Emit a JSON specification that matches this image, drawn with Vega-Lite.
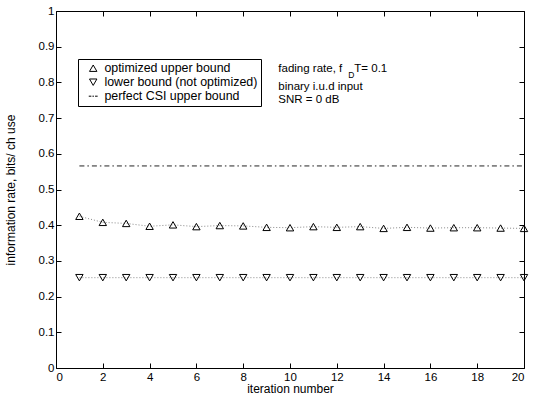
{
  "$schema": "https://vega.github.io/schema/vega-lite/v6.json",
  "width": 468,
  "height": 357,
  "autosize": {"type": "none"},
  "padding": {"left": 56, "top": 11, "right": 18, "bottom": 31},
  "background": "white",
  "config": {
    "view": {"stroke": null},
    "font": "Liberation Sans",
    "axis": {
      "grid": false,
      "domainColor": "black",
      "domainWidth": 1,
      "tickColor": "black",
      "tickSize": -5,
      "labelFontSize": 11.5,
      "labelColor": "black",
      "titleFontSize": 12,
      "titleFontWeight": "normal",
      "titleColor": "black",
      "labelFont": "Liberation Sans",
      "titleFont": "Liberation Sans"
    },
    "legend": {
      "labelFont": "Liberation Sans",
      "labelFontSize": 12.4,
      "labelColor": "black"
    }
  },
  "data": {
    "values": [
      {"iteration": 1, "series": "optimized upper bound", "rate": 0.425},
      {"iteration": 2, "series": "optimized upper bound", "rate": 0.408},
      {"iteration": 3, "series": "optimized upper bound", "rate": 0.405},
      {"iteration": 4, "series": "optimized upper bound", "rate": 0.397},
      {"iteration": 5, "series": "optimized upper bound", "rate": 0.401},
      {"iteration": 6, "series": "optimized upper bound", "rate": 0.396},
      {"iteration": 7, "series": "optimized upper bound", "rate": 0.399},
      {"iteration": 8, "series": "optimized upper bound", "rate": 0.398},
      {"iteration": 9, "series": "optimized upper bound", "rate": 0.394},
      {"iteration": 10, "series": "optimized upper bound", "rate": 0.393},
      {"iteration": 11, "series": "optimized upper bound", "rate": 0.396},
      {"iteration": 12, "series": "optimized upper bound", "rate": 0.394},
      {"iteration": 13, "series": "optimized upper bound", "rate": 0.396},
      {"iteration": 14, "series": "optimized upper bound", "rate": 0.391},
      {"iteration": 15, "series": "optimized upper bound", "rate": 0.394},
      {"iteration": 16, "series": "optimized upper bound", "rate": 0.392},
      {"iteration": 17, "series": "optimized upper bound", "rate": 0.393},
      {"iteration": 18, "series": "optimized upper bound", "rate": 0.393},
      {"iteration": 19, "series": "optimized upper bound", "rate": 0.392},
      {"iteration": 20, "series": "optimized upper bound", "rate": 0.391},
      {"iteration": 1, "series": "lower bound (not optimized)", "rate": 0.253},
      {"iteration": 2, "series": "lower bound (not optimized)", "rate": 0.253},
      {"iteration": 3, "series": "lower bound (not optimized)", "rate": 0.253},
      {"iteration": 4, "series": "lower bound (not optimized)", "rate": 0.253},
      {"iteration": 5, "series": "lower bound (not optimized)", "rate": 0.253},
      {"iteration": 6, "series": "lower bound (not optimized)", "rate": 0.253},
      {"iteration": 7, "series": "lower bound (not optimized)", "rate": 0.253},
      {"iteration": 8, "series": "lower bound (not optimized)", "rate": 0.253},
      {"iteration": 9, "series": "lower bound (not optimized)", "rate": 0.253},
      {"iteration": 10, "series": "lower bound (not optimized)", "rate": 0.253},
      {"iteration": 11, "series": "lower bound (not optimized)", "rate": 0.253},
      {"iteration": 12, "series": "lower bound (not optimized)", "rate": 0.253},
      {"iteration": 13, "series": "lower bound (not optimized)", "rate": 0.253},
      {"iteration": 14, "series": "lower bound (not optimized)", "rate": 0.253},
      {"iteration": 15, "series": "lower bound (not optimized)", "rate": 0.253},
      {"iteration": 16, "series": "lower bound (not optimized)", "rate": 0.253},
      {"iteration": 17, "series": "lower bound (not optimized)", "rate": 0.253},
      {"iteration": 18, "series": "lower bound (not optimized)", "rate": 0.253},
      {"iteration": 19, "series": "lower bound (not optimized)", "rate": 0.253},
      {"iteration": 20, "series": "lower bound (not optimized)", "rate": 0.253},
      {"iteration": 1, "series": "perfect CSI upper bound", "rate": 0.566},
      {"iteration": 20, "series": "perfect CSI upper bound", "rate": 0.566}
    ]
  },
  "layer": [
    {
      "transform": [{"filter": "datum.series !== 'perfect CSI upper bound'"}],
      "mark": {"type": "line", "color": "#888888", "strokeWidth": 1, "strokeDash": [1, 2]},
      "encoding": {
        "x": {"field": "iteration", "type": "quantitative", "scale": {"domain": [0, 20], "nice": false},
              "axis": {"orient": "bottom", "values": [0, 2, 4, 6, 8, 10, 12, 14, 16, 18, 20], "title": "iteration number", "titlePadding": 1, "labelPadding": 8}},
        "y": {"field": "rate", "type": "quantitative", "scale": {"domain": [0, 1], "nice": false},
              "axis": {"orient": "left", "values": [0, 0.1, 0.2, 0.3, 0.4, 0.5, 0.6, 0.7, 0.8, 0.9, 1], "format": ".1~f", "title": "information rate, bits/ ch use", "titlePadding": 21, "labelPadding": 7}},
        "detail": {"field": "series"}
      }
    },
    {
      "transform": [{"filter": "datum.series === 'perfect CSI upper bound'"}],
      "mark": {"type": "point", "opacity": 0},
      "encoding": {
        "x": {"field": "iteration", "type": "quantitative",
              "axis": {"orient": "top", "labels": false, "title": null, "values": [0, 2, 4, 6, 8, 10, 12, 14, 16, 18, 20]}},
        "y": {"field": "rate", "type": "quantitative",
              "axis": {"orient": "right", "labels": false, "title": null, "values": [0, 0.1, 0.2, 0.3, 0.4, 0.5, 0.6, 0.7, 0.8, 0.9, 1]}}
      }
    },
    {
      "transform": [{"filter": "datum.series === 'perfect CSI upper bound'"}],
      "mark": {"type": "line", "color": "#222222", "strokeWidth": 1, "strokeDash": [5, 3, 1.5, 3]},
      "encoding": {
        "x": {"field": "iteration", "type": "quantitative", "axis": null},
        "y": {"field": "rate", "type": "quantitative", "axis": null}
      }
    },
    {
      "transform": [{"filter": "datum.series !== 'perfect CSI upper bound'"}],
      "mark": {"type": "point", "filled": false, "color": "black", "strokeWidth": 1, "size": 55, "opacity": 1},
      "encoding": {
        "x": {"field": "iteration", "type": "quantitative", "axis": null},
        "y": {"field": "rate", "type": "quantitative", "axis": null},
        "shape": {
          "field": "series",
          "type": "nominal",
          "scale": {
            "domain": ["optimized upper bound", "lower bound (not optimized)", "perfect CSI upper bound"],
            "range": ["triangle-up", "triangle-down", "M-1.2,0H-0.5M-0.2,0H0.2M0.5,0H1.2"]
          },
          "legend": {
            "title": null,
            "orient": "none",
            "legendX": 22,
            "legendY": 48,
            "strokeColor": "black",
            "fillColor": "white",
            "padding": 3,
            "rowPadding": 1,
            "symbolStrokeColor": "black",
            "symbolFillColor": "transparent",
            "symbolStrokeWidth": 1,
            "symbolSize": 55,
            "symbolOffset": 6,
            "labelOffset": 5
          }
        }
      }
    },
    {
      "data": {"values": [{}]},
      "mark": {"type": "text", "align": "left", "baseline": "middle", "fontSize": 11.5, "font": "Liberation Sans", "color": "black"},
      "encoding": {
        "x": {"datum": 9.5, "axis": null},
        "y": {"datum": 0.838, "axis": null},
        "text": {"value": "fading rate, f"}
      }
    },
    {
      "data": {"values": [{}]},
      "mark": {"type": "text", "align": "left", "baseline": "middle", "fontSize": 8.5, "font": "Liberation Sans", "color": "black", "dx": 70},
      "encoding": {
        "x": {"datum": 9.5, "axis": null},
        "y": {"datum": 0.822, "axis": null},
        "text": {"value": "D"}
      }
    },
    {
      "data": {"values": [{}]},
      "mark": {"type": "text", "align": "left", "baseline": "middle", "fontSize": 11.5, "font": "Liberation Sans", "color": "black", "dx": 76},
      "encoding": {
        "x": {"datum": 9.5, "axis": null},
        "y": {"datum": 0.838, "axis": null},
        "text": {"value": "T= 0.1"}
      }
    },
    {
      "data": {"values": [{}]},
      "mark": {"type": "text", "align": "left", "baseline": "middle", "fontSize": 11.5, "font": "Liberation Sans", "color": "black"},
      "encoding": {
        "x": {"datum": 9.5, "axis": null},
        "y": {"datum": 0.787, "axis": null},
        "text": {"value": "binary i.u.d input"}
      }
    },
    {
      "data": {"values": [{}]},
      "mark": {"type": "text", "align": "left", "baseline": "middle", "fontSize": 11.5, "font": "Liberation Sans", "color": "black"},
      "encoding": {
        "x": {"datum": 9.5, "axis": null},
        "y": {"datum": 0.75, "axis": null},
        "text": {"value": "SNR = 0 dB"}
      }
    }
  ]
}
